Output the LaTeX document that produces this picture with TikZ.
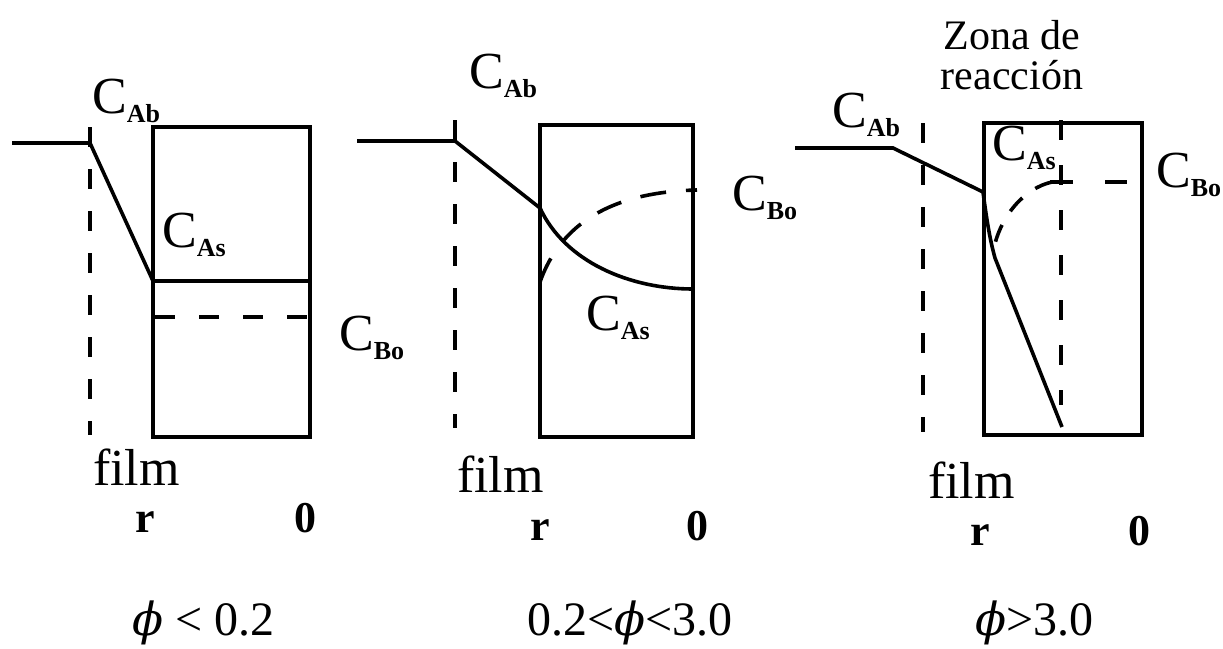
\documentclass[tikz,border=0pt]{standalone}
\usepackage{fontspec}
\setmainfont{Liberation Serif}
\newfontfamily\phifont[Scale=0.95]{DejaVu Serif}
\newcommand\phisym{{\phifont\itshape ϕ}}
\newcommand\conclab[1]{C\raisebox{-9pt}{\fontsize{26}{26}\selectfont\bfseries #1}}
\begin{document}
\begin{tikzpicture}[x=1pt,y=-1pt,
  solidln/.style={line width=3.6pt},
  dashln/.style={line width=3.6pt, dash pattern=on 20pt off 22pt},
  frame/.style={line width=3.8pt},
  conc/.style={inner sep=0pt, anchor=base west, font=\fontsize{52}{52}\selectfont},
  filmlab/.style={inner sep=0pt, anchor=base west, font=\fontsize{52}{52}\selectfont},
  axlab/.style={inner sep=0pt, anchor=base, font=\fontsize{44}{44}\selectfont\bfseries},
  philab/.style={inner sep=0pt, anchor=base west, font=\fontsize{48}{48}\selectfont},
  zonelab/.style={inner sep=0pt, anchor=base, font=\fontsize{42}{42}\selectfont}]
\useasboundingbox (0,0) rectangle (1223,648);

% ---------- Panel 1 ----------
\coordinate (a1) at (12,143);
\coordinate (b1) at (90,143);
\coordinate (s1) at (153,281);
\draw[solidln] (a1) -- (b1) -- (s1);
\draw[dashln] (90,127) -- (90,435);
\draw[frame] (153,127) rectangle (310,437);
\draw[solidln] (s1) -- (310,281);
\draw[dashln, dash pattern=on 20pt off 24pt] (155,317) -- (310,317);
\node[conc] (cab1) at (92,113) {\conclab{Ab}};
\node[conc] (cas1) at (162,247) {\conclab{As}};
\node[conc] (cbo1) at (339,350) {\conclab{Bo}};
\node[filmlab] (film1) at (93,485) {film};
\node[axlab] (r1) at (145,532) {r};
\node[axlab] (z1) at (305,532) {0};
\node[philab] (phi1) at (132,635) {\phisym{} < 0.2};

% ---------- Panel 2 ----------
\coordinate (a2) at (357,141);
\coordinate (b2) at (455,141);
\coordinate (s2) at (540,208);
\draw[solidln] (a2) -- (b2) -- (s2) .. controls (565,262) and (630,289) .. (693,289);
\draw[dashln] (455,120) -- (455,428);
\draw[frame] (540,125) rectangle (693,437);
\draw[dashln, dash pattern=on 26pt off 20pt] (540,282) .. controls (560,225) and (610,192) .. (697,190);
\node[conc] (cab2) at (469,88) {\conclab{Ab}};
\node[conc] (cas2) at (586,330) {\conclab{As}};
\node[conc] (cbo2) at (732,210) {\conclab{Bo}};
\node[filmlab] (film2) at (457,492) {film};
\node[axlab] (r2) at (540,540) {r};
\node[axlab] (z2) at (697,540) {0};
\node[philab] (phi2) at (527,635) {0.2<\phisym<3.0};

% ---------- Panel 3 ----------
\coordinate (a3) at (795,148);
\coordinate (b3) at (893,148);
\coordinate (s3) at (983,192);
\draw[solidln] (a3) -- (b3) -- (s3) .. controls (987,222) and (990,240) .. (995,258) -- (1062,427);
\draw[dashln] (923,123) -- (923,432);
\draw[frame] (984,123) rectangle (1142,435);
\draw[dashln, dash pattern=on 20pt off 25pt] (1061,120) -- (1061,405);
\draw[dashln, dash pattern=on 23pt off 32pt] (1050,182) -- (1127,182);
\draw[dashln, dash pattern=on 18pt off 16pt] (1052,182) .. controls (1025,188) and (1000,215) .. (993,252);
\node[zonelab] (zona1) at (1012,49) {Zona de};
\node[zonelab] (zona2) at (1012,89) {reacción};
\node[conc] (cab3) at (832,127) {\conclab{Ab}};
\node[conc] (cas3) at (992,160) {\conclab{As}};
\node[conc] (cbo3) at (1156,187) {\conclab{Bo}};
\node[filmlab] (film3) at (928,498) {film};
\node[axlab] (r3) at (980,545) {r};
\node[axlab] (z3) at (1139,545) {0};
\node[philab] (phi3) at (975,635) {\phisym>3.0};
\end{tikzpicture}
\end{document}
